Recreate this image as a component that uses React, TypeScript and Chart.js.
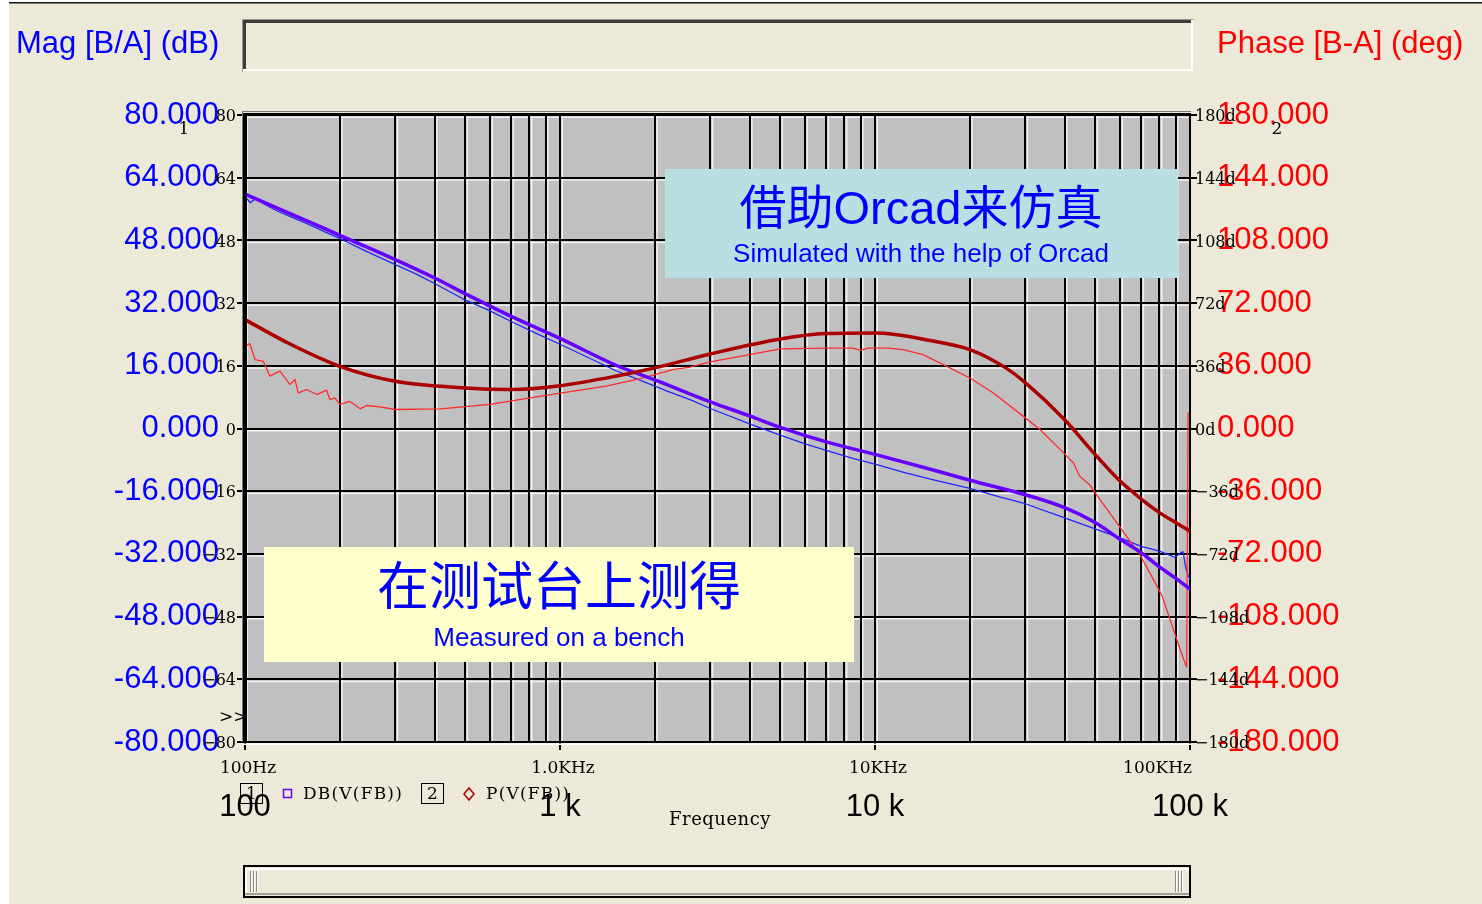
import React, { useEffect, useRef } from "react";
import { Chart, registerables } from "chart.js";

Chart.register(...registerables);

const CANVAS_W = 1482;
const CANVAS_H = 904;

// Plot frame (canvas pixels)
const PLOT_LEFT = 245;
const PLOT_RIGHT = 1190;
const PLOT_TOP = 115;
const PLOT_BOTTOM = 742;

// Axis ranges
const FREQ_MIN = 100;
const FREQ_MAX = 100000;
const MAG_MIN = -80;
const MAG_MAX = 80;
const MAG_STEP = 16;
const PHASE_MIN = -180;
const PHASE_MAX = 180;
const PHASE_STEP = 36;

// Axis labels
const decadeValues = [100, 1000, 10000, 100000];
const decadeLabels = ["100", "1 k", "10 k", "100 k"];
const decadeUnitLabels = ["100Hz", "1.0KHz", "10KHz", "100KHz"];

const magTitle = "Mag [B/A] (dB)";
const phaseTitle = "Phase [B-A] (deg)";
const xTitle = "Frequency";
const magTraceName = "DB(V(FB))";
const phaseTraceName = "P(V(FB))";

const simCaptionZh = "借助Orcad来仿真";
const simCaptionEn = "Simulated with the help of Orcad";
const benchCaptionZh = "在测试台上测得";
const benchCaptionEn = "Measured on a bench";

// Orcad simulation: magnitude (dB)
const simMagFreq = [100, 150, 200, 300, 400, 500, 700, 1000, 1500, 2000, 3000, 4000, 5000, 7000, 10000, 15000, 20000, 30000, 40000, 50000, 60000, 70000, 80000, 90000, 100000];
const simMagDb = [59.8, 53.7, 49.3, 43.1, 38.4, 34.4, 28.6, 23.0, 16.2, 12.4, 6.8, 3.2, 0.3, -3.4, -6.6, -10.4, -13.2, -16.9, -20.2, -24.0, -28.3, -31.7, -35.3, -38.2, -41.0];

// Orcad simulation: phase (deg)
const simPhaseFreq = [100, 140, 200, 300, 500, 700, 1000, 1500, 2000, 3000, 5000, 7000, 10000, 15000, 20000, 26000, 30000, 40000, 50000, 60000, 70000, 80000, 90000, 100000];
const simPhaseDeg = [62.5, 48.2, 35.7, 27.1, 23.3, 22.4, 24.6, 30.0, 34.8, 42.8, 51.4, 54.5, 54.8, 50.5, 45.3, 34.8, 26.3, 5.0, -14.9, -30.2, -40.5, -48.3, -54.0, -58.9];

// Bench measurement: magnitude (dB)
const benchMagFreq = [100, 104, 108, 115, 125, 140, 160, 180, 200, 240, 300, 350, 400, 500, 600, 700, 850, 1000, 1200, 1500, 1800, 2200, 2600, 3000, 4000, 5000, 6000, 7000, 8500, 10000, 12500, 15000, 20000, 25000, 30000, 40000, 50000, 60000, 70000, 80000, 89600, 93900, 95100, 96700, 98400, 100000];
const benchMagDb = [59.2, 57.6, 58.7, 57.3, 55.7, 54.0, 52.0, 50.1, 48.5, 45.4, 41.8, 39.4, 37.0, 32.8, 30.0, 27.3, 24.1, 21.5, 18.5, 14.8, 12.3, 9.5, 7.3, 5.1, 1.2, -1.7, -3.9, -5.6, -7.6, -9.1, -11.3, -12.9, -15.3, -17.5, -19.2, -22.8, -25.6, -27.9, -30.1, -31.3, -32.9, -31.6, -31.5, -35.1, -37.2, -38.5];

// Bench measurement: phase (deg)
const benchPhaseFreq = [100, 103.7, 107.6, 114.3, 120.1, 124, 129.1, 138.9, 144.1, 147.6, 157, 168.9, 181.6, 186, 193, 200, 215, 232, 243.6, 268, 300, 416, 600, 860, 1400, 1800, 2280, 2580, 3000, 4000, 5000, 7000, 8500, 9000, 9500, 11000, 12300, 14200, 17300, 20000, 23700, 30000, 33400, 39700, 42600, 44600, 47900, 50000, 59600, 69700, 76500, 81500, 88500, 93000, 96700, 97600, 98600];
const benchPhaseDeg = [47.2, 48.7, 39.5, 38.6, 30.0, 31.5, 32.9, 25.2, 28.1, 20.5, 22.4, 19.5, 22.0, 16.6, 17.6, 13.8, 15.6, 11.3, 13.2, 12.4, 10.9, 11.3, 13.8, 18.5, 24.3, 28.6, 33.8, 35.3, 38.2, 42.4, 45.7, 46.2, 46.2, 44.8, 46.2, 46.2, 45.3, 42.4, 34.8, 29.0, 20.5, 6.1, -0.6, -14.0, -19.7, -27.3, -32.1, -36.9, -56.0, -73.2, -86.6, -96.1, -115.2, -126.7, -135.3, -137.0, 9.0];

// Trace colours
const SIM_MAG_COLOR = "#6600ff";
const BENCH_MAG_COLOR = "#2323ff";
const SIM_PHASE_COLOR = "#aa0000";
const BENCH_PHASE_COLOR = "#ff2b2b";

const FONT_SANS = '"Liberation Sans", Arial, sans-serif';
const FONT_SERIF = '"DejaVu Serif", serif';
const FONT_CJK = '"Liberation Sans", "Noto Sans CJK SC", sans-serif';

// Vertical grid: 1..9 in every decade
const gridFreqs: number[] = [];
for (let d = FREQ_MIN; d < FREQ_MAX; d *= 10) {
  for (let m = 1; m <= 9; m++) gridFreqs.push(d * m);
}
gridFreqs.push(FREQ_MAX);

const toPoints = (xs: number[], ys: number[]) => xs.map((x, i) => ({ x, y: ys[i] }));
const minus = (s: string) => s.replace("-", "\u2212");

function sunkenBox(ctx: CanvasRenderingContext2D, x: number, y: number, w: number, h: number) {
  ctx.fillStyle = "#9a9890";
  ctx.fillRect(x - 1, y - 1, w + 2, 1);
  ctx.fillRect(x - 1, y - 1, 1, h + 2);
  ctx.fillStyle = "#3c3c3c";
  ctx.fillRect(x, y, w, 3);
  ctx.fillRect(x, y, 3, h);
  ctx.fillStyle = "#ffffff";
  ctx.fillRect(x, y + h - 2, w, 2);
  ctx.fillRect(x + w - 2, y, 2, h);
}

const panelPlugin = {
  id: "scopePanel",
  beforeDraw(chart: any) {
    const { ctx, chartArea: a } = chart;
    const xs = chart.scales.x;
    const ym = chart.scales.mag;
    ctx.save();
    // window background
    ctx.fillStyle = "#ece9d8";
    ctx.fillRect(0, 0, CANVAS_W, CANVAS_H);
    ctx.fillStyle = "#ffffff";
    ctx.fillRect(0, 0, 9, CANVAS_H);
    ctx.fillRect(0, 0, CANVAS_W, 2);
    ctx.fillStyle = "#111111";
    ctx.fillRect(9, 2, CANVAS_W - 9, 1.5);

    // caption field above the plot
    sunkenBox(ctx, 243, 20, 950, 51);

    // axis titles
    ctx.font = `31px ${FONT_SANS}`;
    ctx.textBaseline = "alphabetic";
    ctx.textAlign = "left";
    ctx.fillStyle = "#0000ff";
    ctx.fillText(magTitle, 16, 53);
    ctx.fillStyle = "#ff0000";
    ctx.fillText(phaseTitle, 1217, 53);

    // plot background
    ctx.fillStyle = "#c0c0c0";
    ctx.fillRect(a.left, a.top, a.right - a.left, a.bottom - a.top);

    // light bevel next to each grid line
    ctx.strokeStyle = "#f2f2f2";
    ctx.lineWidth = 1.5;
    ctx.beginPath();
    for (const t of xs.ticks) {
      const px = xs.getPixelForValue(t.value);
      if (px >= a.right - 2) continue;
      ctx.moveTo(px + 2.2, a.top);
      ctx.lineTo(px + 2.2, a.bottom);
    }
    for (const t of ym.ticks) {
      const py = ym.getPixelForValue(t.value);
      if (py >= a.bottom - 2) continue;
      ctx.moveTo(a.left, py + 2.2);
      ctx.lineTo(a.right, py + 2.2);
    }
    ctx.stroke();
    ctx.restore();
  },
  afterDatasetsDraw(chart: any) {
    const { ctx } = chart;
    ctx.save();
    ctx.textAlign = "center";
    ctx.textBaseline = "middle";
    ctx.fillStyle = "#b9dfe3";
    ctx.fillRect(665, 169, 513, 109);
    ctx.fillStyle = "#0000ff";
    ctx.font = `47px ${FONT_CJK}`;
    ctx.fillText(simCaptionZh, 921, 211);
    ctx.font = `26px ${FONT_SANS}`;
    ctx.fillText(simCaptionEn, 921, 255);

    ctx.fillStyle = "#ffffcc";
    ctx.fillRect(264, 547, 590, 115);
    ctx.fillStyle = "#0000ff";
    ctx.font = `52px ${FONT_CJK}`;
    ctx.fillText(benchCaptionZh, 559, 591);
    ctx.font = `26px ${FONT_SANS}`;
    ctx.fillText(benchCaptionEn, 559, 639);
    ctx.restore();
  },
  afterDraw(chart: any) {
    const { ctx, chartArea: a } = chart;
    const xs = chart.scales.x;
    const ym = chart.scales.mag;
    const yp = chart.scales.phase;
    ctx.save();

    // frame around the plot
    ctx.fillStyle = "#7a7a7a";
    ctx.fillRect(a.left - 3, a.top - 4, a.right - a.left + 4, 1);
    ctx.fillRect(a.left - 3, a.top - 4, 1, a.bottom - a.top + 4);
    ctx.fillStyle = "#000";
    ctx.fillRect(a.left - 2, a.top - 2, a.right - a.left + 3, 3);
    ctx.fillRect(a.left - 2, a.top - 2, 3.5, a.bottom - a.top + 3);
    ctx.fillStyle = "#ffffff";
    ctx.fillRect(a.left - 2, a.bottom + 1.5, a.right - a.left + 4, 1.5);

    // small serif tick values
    ctx.fillStyle = "#000";
    ctx.font = `16px ${FONT_SERIF}`;
    ctx.textBaseline = "middle";
    ctx.textAlign = "right";
    for (const t of ym.ticks) {
      ctx.fillText(minus(String(t.value)), a.left - 9, ym.getPixelForValue(t.value) + 2);
    }
    ctx.textAlign = "left";
    for (const t of yp.ticks) {
      ctx.fillText(minus(`${t.value}d`), a.right + 5, yp.getPixelForValue(t.value) + 2);
    }

    // frequency unit labels under the axis
    ctx.font = `17px ${FONT_SERIF}`;
    decadeValues.forEach((v, i) => {
      const px = xs.getPixelForValue(v);
      if (i === decadeValues.length - 1) {
        ctx.textAlign = "right";
        ctx.fillText(decadeUnitLabels[i], a.right + 2, a.bottom + 27);
      } else {
        ctx.textAlign = "center";
        ctx.fillText(decadeUnitLabels[i], px + 3, a.bottom + 27);
      }
    });

    // trace markers
    ctx.textAlign = "center";
    ctx.fillText("1", a.left - 61, a.top + 15);
    ctx.fillText("2", a.right + 87, a.top + 15);
    ctx.textAlign = "left";
    ctx.fillText(">>", a.left - 26, a.bottom - 24);

    // legend row
    const ly = a.bottom + 52;
    ctx.strokeStyle = "#000";
    ctx.lineWidth = 1;
    ctx.strokeRect(240.5, ly - 10.5, 22, 20);
    ctx.strokeRect(421.5, ly - 10.5, 22, 20);
    ctx.textAlign = "center";
    ctx.fillText("1", 251.5, ly + 1);
    ctx.fillText("2", 432.5, ly + 1);
    ctx.strokeStyle = SIM_MAG_COLOR;
    ctx.lineWidth = 1.5;
    ctx.strokeRect(283.5, ly - 4.5, 8, 8);
    ctx.strokeStyle = SIM_PHASE_COLOR;
    ctx.beginPath();
    ctx.moveTo(469, ly - 6);
    ctx.lineTo(474, ly);
    ctx.lineTo(469, ly + 6);
    ctx.lineTo(464, ly);
    ctx.closePath();
    ctx.stroke();
    ctx.textAlign = "left";
    (ctx as any).letterSpacing = "1.2px";
    ctx.fillText(magTraceName, 303, ly + 1);
    ctx.fillText(phaseTraceName, 486, ly + 1);
    (ctx as any).letterSpacing = "0.5px";
    ctx.font = `18px ${FONT_SERIF}`;
    ctx.textAlign = "center";
    ctx.fillText(xTitle, 720, ly + 26);
    (ctx as any).letterSpacing = "0px";

    // horizontal scroll bar
    const sx = 244, sy = 866, sw = 946, sh = 31;
    ctx.fillStyle = "#ece9d8";
    ctx.fillRect(sx, sy, sw, sh);
    ctx.strokeStyle = "#000";
    ctx.lineWidth = 2;
    ctx.strokeRect(sx, sy, sw, sh);
    ctx.fillStyle = "#ffffff";
    ctx.fillRect(sx + 1, sy + 2, sw - 2, 2);
    ctx.fillRect(sx + 1, sy + 2, 2, sh - 4);
    ctx.fillStyle = "#a0a0a0";
    ctx.fillRect(sx + 1, sy + sh - 4, sw - 2, 2);
    for (const gx of [sx + 6, sx + 9, sx + 12, sx + sw - 15, sx + sw - 12, sx + sw - 9]) {
      ctx.fillStyle = "#8a8a8a";
      ctx.fillRect(gx, sy + 5, 1, sh - 10);
      ctx.fillStyle = "#ffffff";
      ctx.fillRect(gx + 1, sy + 5, 1, sh - 10);
    }
    ctx.restore();
  },
};

export default function App() {
  const canvasRef = useRef<HTMLCanvasElement>(null);

  useEffect(() => {
    const canvas = canvasRef.current;
    if (!canvas) return;

    const chart = new Chart(canvas, {
      type: "line",
      data: {
        datasets: [
          {
            label: phaseTraceName,
            data: toPoints(simPhaseFreq, simPhaseDeg),
            yAxisID: "phase",
            borderColor: SIM_PHASE_COLOR,
            borderWidth: 3.5,
            cubicInterpolationMode: "monotone",
          },
          {
            label: magTraceName,
            data: toPoints(simMagFreq, simMagDb),
            yAxisID: "mag",
            borderColor: SIM_MAG_COLOR,
            borderWidth: 3.5,
            cubicInterpolationMode: "monotone",
          },
          {
            label: phaseTraceName + " bench",
            data: toPoints(benchPhaseFreq, benchPhaseDeg),
            yAxisID: "phase",
            borderColor: BENCH_PHASE_COLOR,
            borderWidth: 1.3,
          },
          {
            label: magTraceName + " bench",
            data: toPoints(benchMagFreq, benchMagDb),
            yAxisID: "mag",
            borderColor: BENCH_MAG_COLOR,
            borderWidth: 1.3,
          },
        ],
      },
      options: {
        animation: false,
        responsive: false,
        devicePixelRatio: 1,
        events: [],
        parsing: true,
        layout: { padding: { top: PLOT_TOP, left: 0, right: 0, bottom: 0 } },
        elements: {
          point: { radius: 0 },
          line: { tension: 0, fill: false, borderJoinStyle: "round", borderCapStyle: "round" },
        },
        plugins: {
          legend: { display: false },
          tooltip: { enabled: false },
          title: { display: false },
        },
        scales: {
          x: {
            type: "logarithmic",
            position: "bottom",
            min: FREQ_MIN,
            max: FREQ_MAX,
            afterBuildTicks: (scale: any) => {
              scale.ticks = gridFreqs.map((v) => ({ value: v }));
            },
            afterFit: (scale: any) => {
              scale.height = CANVAS_H - PLOT_BOTTOM;
            },
            ticks: {
              autoSkip: false,
              maxRotation: 0,
              minRotation: 0,
              padding: 39,
              color: "#000",
              font: { family: FONT_SANS, size: 31 },
              callback: (v: any) => {
                const i = decadeValues.indexOf(Number(v));
                return i >= 0 ? decadeLabels[i] : "";
              },
            },
            grid: {
              color: "#000",
              lineWidth: 2,
              tickLength: 8,
              tickColor: (c: any) =>
                c.tick && decadeValues.includes(c.tick.value) ? "#000" : "rgba(0,0,0,0)",
            },
            border: { color: "#000", width: 2 },
          },
          mag: {
            type: "linear",
            position: "left",
            min: MAG_MIN,
            max: MAG_MAX,
            afterFit: (scale: any) => {
              scale.width = PLOT_LEFT;
            },
            ticks: {
              stepSize: MAG_STEP,
              padding: 18,
              color: "#0000ff",
              font: { family: FONT_SANS, size: 31 },
              callback: (v: any) => Number(v).toFixed(3),
            },
            grid: { color: "#000", lineWidth: 2, tickLength: 8, tickColor: "#000" },
            border: { color: "#000", width: 3 },
          },
          phase: {
            type: "linear",
            position: "right",
            min: PHASE_MIN,
            max: PHASE_MAX,
            afterFit: (scale: any) => {
              scale.width = CANVAS_W - PLOT_RIGHT;
            },
            ticks: {
              stepSize: PHASE_STEP,
              padding: 20,
              color: "#ff0000",
              font: { family: FONT_SANS, size: 31 },
              callback: (v: any) => Number(v).toFixed(3),
            },
            grid: { drawOnChartArea: false, tickLength: 7, tickColor: "#000", lineWidth: 2 },
            border: { color: "#000", width: 2 },
          },
        },
      } as any,
      plugins: [panelPlugin],
    });

    return () => chart.destroy();
  }, []);

  return (
    <div style={{ position: "fixed", left: 0, top: 0, width: CANVAS_W, height: CANVAS_H }}>
      <canvas
        ref={canvasRef}
        width={CANVAS_W}
        height={CANVAS_H}
        style={{ display: "block", width: CANVAS_W, height: CANVAS_H }}
      />
    </div>
  );
}
